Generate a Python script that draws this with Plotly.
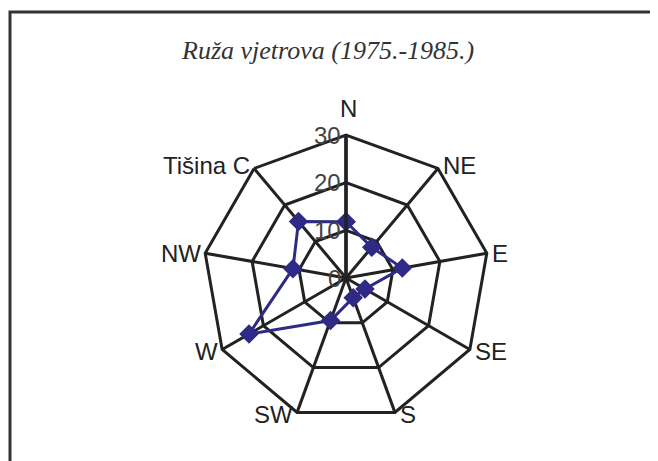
import math
import plotly.graph_objects as go

categories = ["N", "NE", "E", "SE", "S", "SW", "W", "NW", "Tišina C"]
values = [11.8, 8.4, 12.0, 4.6, 4.4, 9.5, 23.5, 11.3, 15.5]
radial_ticks = [0, 10, 20, 30]
r_max = 30

W, H = 658, 461
# page body has an 8px margin; positions below are in figure pixels
CX, CY, R = 338, 270, 143


def px(x):
    return x / W


def py(y):
    return 1 - y / H


fig = go.Figure()
fig.add_trace(go.Scatterpolar(
    r=values + values[:1],
    theta=categories + categories[:1],
    mode="lines+markers",
    line=dict(color="#2E2A85", width=3),
    marker=dict(symbol="diamond", size=15, color="#2E2A85"),
    showlegend=False,
))

# category labels, anchored outside each polygon vertex (Excel style)
annotations = []
n = len(categories)
for i, cat in enumerate(categories):
    th = math.radians(360 * i / n)
    vx = CX + R * math.sin(th)
    vy = CY - R * math.cos(th)
    s, c = math.sin(th), math.cos(th)
    if abs(s) < 0.1:
        ax, xa, ay, ya = vx + 3, "center", vy - 12, "bottom"
    elif s > 0:
        ax, xa, ay, ya = vx + 4, "left", vy + 2 - 7 * max(c, 0), "middle"
    else:
        ax, xa, ay, ya = vx - 3, "right", vy + 2 - 7 * max(c, 0), "middle"
    annotations.append(dict(text=cat, x=px(ax), y=py(ay), xref="paper", yref="paper",
                            xanchor=xa, yanchor=ya, showarrow=False, borderpad=0,
                            font=dict(family="Liberation Sans", size=24, color="#222")))

# radial tick labels, sitting just left of the north spoke
for v in radial_ticks:
    ty = CY - R * v / r_max
    annotations.append(dict(text=str(v), x=px(CX - 4), y=py(ty), xref="paper", yref="paper",
                            xanchor="right", yanchor="middle", showarrow=False, borderpad=0,
                            font=dict(family="Liberation Sans", size=24, color="#444")))

annotations.append(dict(text="Ruža vjetrova (1975.-1985.)", x=px(319), y=py(42),
                        xref="paper", yref="paper", showarrow=False,
                        xanchor="center", yanchor="middle",
                        font=dict(family="Liberation Serif", size=26, color="#333",
                                  style="italic")))

fig.update_layout(
    width=W, height=H,
    margin=dict(l=0, r=0, t=0, b=0),
    paper_bgcolor="white",
    annotations=annotations,
    polar=dict(
        domain=dict(x=[px(CX - R), px(CX + R)], y=[py(CY + R), py(CY - R)]),
        bgcolor="white",
        gridshape="linear",
        angularaxis=dict(
            rotation=90, direction="clockwise",
            showline=True, linecolor="#222", linewidth=3,
            gridcolor="#222", gridwidth=2.5,
            ticks="", showticklabels=False,
        ),
        radialaxis=dict(
            range=[0, r_max], tickvals=radial_ticks, angle=90,
            showline=True, linecolor="#222", linewidth=3.5,
            gridcolor="#222", gridwidth=2.5, ticks="", showticklabels=False,
        ),
    ),
    shapes=[dict(type="rect", xref="paper", yref="paper",
                 x0=px(2), x1=1.05, y0=-0.05, y1=py(4),
                 line=dict(color="#333", width=3))],
)

fig.write_html("out.html")
